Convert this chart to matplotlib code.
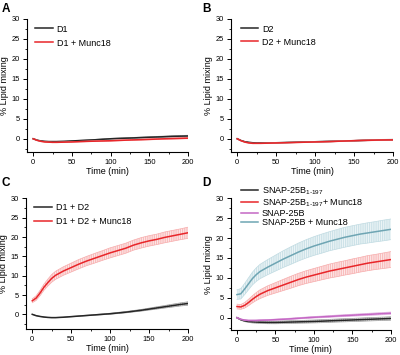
import numpy as np
import matplotlib.pyplot as plt
from matplotlib.ticker import MultipleLocator

plt.rcParams['font.family'] = ['Liberation Sans', 'DejaVu Sans']
plt.rcParams['hatch.linewidth'] = 0.5

# ---- data ----
t = [0, 5, 10, 15, 20, 25, 30, 40, 50, 60, 70, 80, 90, 100,
     110, 120, 130, 140, 150, 160, 170, 180, 190, 200]

# panel A
d1 = [0, -0.35, -0.55, -0.65, -0.7, -0.7, -0.7, -0.65, -0.55, -0.45, -0.35, -0.25,
      -0.12, 0, 0.08, 0.15, 0.22, 0.3, 0.38, 0.45, 0.52, 0.6, 0.65, 0.7]
d1_err = [0.05, 0.05, 0.05, 0.05, 0.06, 0.06, 0.06, 0.07, 0.08, 0.08, 0.09, 0.1,
          0.1, 0.11, 0.12, 0.12, 0.13, 0.14, 0.14, 0.15, 0.16, 0.16, 0.17, 0.18]
d1_m = [0, -0.4, -0.65, -0.8, -0.85, -0.9, -0.9, -0.85, -0.8, -0.72, -0.65, -0.6,
        -0.55, -0.5, -0.42, -0.35, -0.28, -0.22, -0.15, -0.08, 0, 0.05, 0.1, 0.15]
d1_m_err = [0.05, 0.05, 0.06, 0.06, 0.06, 0.07, 0.07, 0.08, 0.08, 0.09, 0.09, 0.1,
            0.1, 0.1, 0.11, 0.11, 0.12, 0.12, 0.13, 0.13, 0.14, 0.14, 0.15, 0.15]

# panel B
d2 = [0, -0.45, -0.75, -0.9, -1.0, -1.05, -1.05, -1.05, -1.0, -0.95, -0.9, -0.85,
      -0.8, -0.75, -0.7, -0.65, -0.6, -0.55, -0.5, -0.42, -0.35, -0.3, -0.28, -0.25]
d2_err = [0.05, 0.05, 0.06, 0.06, 0.06, 0.07, 0.07, 0.07, 0.08, 0.08, 0.08, 0.09,
          0.09, 0.1, 0.1, 0.11, 0.11, 0.12, 0.12, 0.13, 0.13, 0.14, 0.14, 0.15]
d2_m = [0, -0.5, -0.85, -1.05, -1.15, -1.15, -1.15, -1.1, -1.05, -1.0, -0.95, -0.9,
        -0.85, -0.8, -0.75, -0.7, -0.62, -0.55, -0.48, -0.42, -0.38, -0.33, -0.3, -0.28]
d2_m_err = [0.05, 0.05, 0.06, 0.06, 0.07, 0.07, 0.07, 0.08, 0.08, 0.08, 0.09, 0.09,
            0.1, 0.1, 0.1, 0.11, 0.11, 0.12, 0.12, 0.12, 0.13, 0.13, 0.14, 0.14]

# panel C
d12 = [0, -0.35, -0.55, -0.7, -0.8, -0.85, -0.85, -0.75, -0.6, -0.45, -0.3, -0.15,
       0, 0.15, 0.35, 0.55, 0.8, 1.05, 1.35, 1.65, 1.95, 2.25, 2.55, 2.8]
d12_err = [0.05, 0.05, 0.05, 0.05, 0.05, 0.06, 0.06, 0.06, 0.07, 0.08, 0.09, 0.1,
           0.12, 0.14, 0.16, 0.18, 0.2, 0.23, 0.26, 0.3, 0.33, 0.37, 0.4, 0.45]
d12_m = [3.5, 4.2, 5.5, 7.0, 8.2, 9.3, 10.1, 11.2, 12.1, 13.0, 13.8, 14.5, 15.2,
         15.9, 16.5, 17.1, 17.9, 18.5, 19.0, 19.4, 19.9, 20.3, 20.7, 21.1]
d12_m_err = [0.5, 0.6, 0.7, 0.8, 0.9, 1.0, 1.05, 1.1, 1.15, 1.2, 1.2, 1.25, 1.25,
             1.3, 1.3, 1.3, 1.3, 1.35, 1.35, 1.35, 1.4, 1.4, 1.4, 1.45]

# panel D
s197 = [0, -0.5, -0.8, -0.95, -1.05, -1.1, -1.15, -1.2, -1.2, -1.15, -1.1, -1.05,
        -1.0, -0.95, -0.88, -0.8, -0.72, -0.65, -0.58, -0.5, -0.42, -0.35, -0.28, -0.2]
s197_err = [0.1, 0.15, 0.2, 0.25, 0.28, 0.3, 0.3, 0.32, 0.33, 0.34, 0.35, 0.35,
            0.36, 0.37, 0.38, 0.38, 0.39, 0.4, 0.4, 0.41, 0.42, 0.42, 0.43, 0.44]
s197_m = [2.8, 2.7, 3.1, 3.8, 4.6, 5.3, 5.9, 6.8, 7.5, 8.2, 8.9, 9.6, 10.2, 10.7,
          11.2, 11.7, 12.1, 12.5, 12.9, 13.3, 13.7, 14.0, 14.3, 14.6]
s197_m_err = [0.6, 0.6, 0.7, 0.8, 0.9, 1.0, 1.1, 1.2, 1.3, 1.4, 1.5, 1.55, 1.6,
              1.65, 1.7, 1.75, 1.8, 1.8, 1.85, 1.85, 1.9, 1.9, 1.95, 2.0]
sb = [0, -0.4, -0.6, -0.7, -0.7, -0.7, -0.65, -0.6, -0.5, -0.4, -0.28, -0.15,
      -0.02, 0.1, 0.2, 0.3, 0.42, 0.52, 0.62, 0.72, 0.82, 0.92, 1.02, 1.12]
sb_err = [0.05, 0.07, 0.08, 0.1, 0.1, 0.12, 0.12, 0.14, 0.15, 0.16, 0.17, 0.18,
          0.19, 0.2, 0.21, 0.22, 0.23, 0.24, 0.25, 0.26, 0.27, 0.28, 0.29, 0.3]
sb_m = [5.8, 6.0, 7.2, 8.5, 9.8, 10.8, 11.6, 12.7, 13.7, 14.7, 15.6, 16.5, 17.3,
        18.0, 18.6, 19.2, 19.7, 20.2, 20.6, 21.0, 21.3, 21.6, 21.9, 22.2]
sb_m_err = [1.2, 1.3, 1.4, 1.5, 1.6, 1.7, 1.8, 1.9, 2.0, 2.1, 2.2, 2.25, 2.3,
            2.35, 2.4, 2.4, 2.45, 2.5, 2.5, 2.5, 2.55, 2.55, 2.6, 2.6]

BLACK = '#262626'
RED = '#e8262a'
PINK = '#c467c4'
TEAL = '#6ea5b3'

FS_TICK = 5.4
FS_LAB = 6.5


def band(ax, y, err, color, band_color, fill_color, label):
    y = np.asarray(y)
    err = np.asarray(err)
    ax.fill_between(t, y - err, y + err, facecolor=fill_color, edgecolor=band_color,
                    hatch='|||||||||', linewidth=0)
    ax.plot(t, y - err, color=band_color, lw=0.5)
    ax.plot(t, y + err, color=band_color, lw=0.5)
    ax.plot(t, y, color=color, lw=1.1, label=label)


def style(ax, ybottom):
    ax.set_xlim(-8, 200)
    ax.set_ylim(ybottom, 30)
    for s in ['top', 'right']:
        ax.spines[s].set_visible(False)
    for s in ['left', 'bottom']:
        ax.spines[s].set_linewidth(0.8)
    ax.set_xticks([0, 50, 100, 150, 200])
    ax.set_yticks([0, 5, 10, 15, 20, 25, 30])
    ax.xaxis.set_minor_locator(MultipleLocator(25))
    ax.yaxis.set_minor_locator(MultipleLocator(2.5))
    ax.tick_params(which='major', direction='out', length=3, width=0.7,
                   labelsize=FS_TICK, pad=2)
    ax.tick_params(which='minor', direction='out', length=1.5, width=0.6)
    ax.set_xlabel('Time (min)', fontsize=FS_LAB, labelpad=1)
    ax.set_ylabel('% Lipid mixing', fontsize=FS_LAB, labelpad=2)


fig = plt.figure(figsize=(4.0, 3.55), dpi=100)
axA = fig.add_axes([0.0675, 0.572, 0.4025, 0.3746])
axB = fig.add_axes([0.5775, 0.572, 0.405, 0.3746])
axC = fig.add_axes([0.065, 0.0732, 0.405, 0.368])
axD = fig.add_axes([0.577, 0.0704, 0.40, 0.371])

leg_kw = dict(frameon=False, fontsize=FS_LAB, handlelength=1.9,
              handletextpad=0.45, borderaxespad=0, loc='upper left')

band(axA, d1, d1_err, BLACK, '#a0a0a0', '#e6e6e6', 'D1')
band(axA, d1_m, d1_m_err, RED, '#f5a0a0', '#fde4e4', 'D1 + Munc18')
style(axA, -3.3)
axA.legend(labelspacing=0.55, bbox_to_anchor=(0.03, 0.985), **leg_kw)

band(axB, d2, d2_err, BLACK, '#a0a0a0', '#e6e6e6', 'D2')
band(axB, d2_m, d2_m_err, RED, '#f5a0a0', '#fde4e4', 'D2 + Munc18')
style(axB, -3.3)
axB.legend(labelspacing=0.45, bbox_to_anchor=(0.04, 0.985), **leg_kw)

band(axC, d12, d12_err, BLACK, '#a0a0a0', '#e6e6e6', 'D1 + D2')
band(axC, d12_m, d12_m_err, RED, '#f7acac', '#fde6e6', 'D1 + D2 + Munc18')
style(axC, -3.8)
axC.legend(labelspacing=0.5, bbox_to_anchor=(0.03, 0.99), **leg_kw)

band(axD, s197, s197_err, BLACK, '#a0a0a0', '#e6e6e6',
     r'SNAP-25B$_{\mathregular{1\text{-}197}}$')
band(axD, s197_m, s197_m_err, RED, '#f7acac', '#fde6e6',
     r'SNAP-25B$_{\mathregular{1\text{-}197}}$+ Munc18')
band(axD, sb, sb_err, PINK, '#e2b4e2', '#f5e6f5', 'SNAP-25B')
band(axD, sb_m, sb_m_err, TEAL, '#c0dbe2', '#ebf4f6', 'SNAP-25B + Munc18')
style(axD, -3.1)
axD.legend(labelspacing=0.0, bbox_to_anchor=(0.04, 1.135), **leg_kw)

for x, y, s in [(0.005, 0.975, 'A'), (0.505, 0.975, 'B'),
                (0.005, 0.485, 'C'), (0.505, 0.485, 'D')]:
    fig.text(x, y, s, fontsize=8.5, fontweight='bold', va='center', ha='left')

fig.savefig('out.png', dpi=100)
